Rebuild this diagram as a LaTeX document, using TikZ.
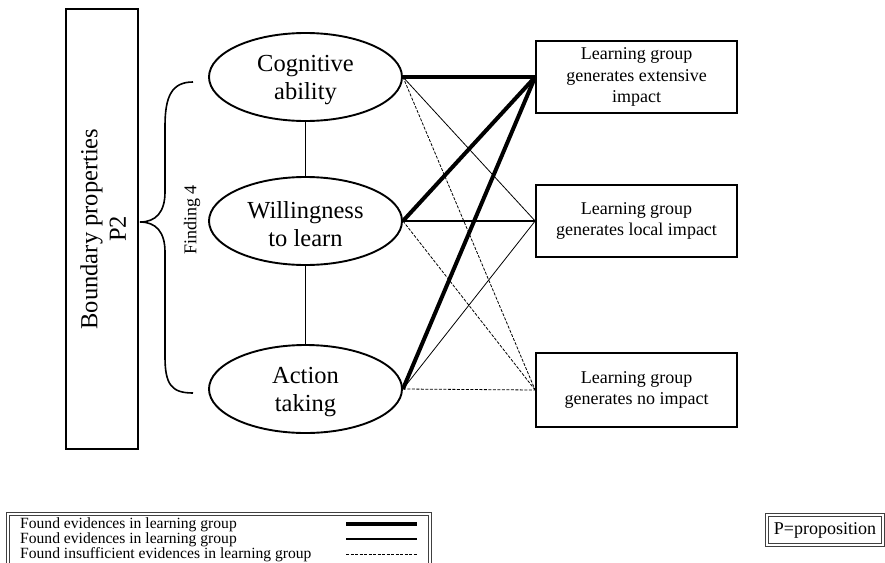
\documentclass[tikz,border=0pt]{standalone}
\usepackage{fontspec}
\setmainfont{Liberation Serif}
\usetikzlibrary{shapes.geometric}

\tikzset{
  factor/.style={ellipse, draw, line width=1.9pt, minimum width=193pt, minimum height=88pt,
    inner sep=0pt},
  factortext/.style={align=center, inner sep=0pt, font=\fontsize{24.5}{28.5}\selectfont},
  impact/.style={rectangle, draw, line width=1.7pt, minimum width=201pt, minimum height=72pt,
    inner sep=0pt, align=center, font=\fontsize{18}{21.5}\selectfont},
  strong/.style={line width=4pt},
  medium/.style={line width=1.6pt},
  weak/.style={line width=0.8pt},
  none/.style={line width=0.8pt, dash pattern=on 3pt off 1.5pt},
  framed/.style={rectangle, draw=black!75, line width=0.8pt, double=white, double distance=1.8pt, inner sep=0pt},
  legendtext/.style={anchor=west, inner sep=0pt, font=\fontsize{15.6}{17}\selectfont},
}

\begin{document}
\begin{tikzpicture}[x=1pt, y=-1pt]
  \useasboundingbox (0,0) rectangle (885,562);
  \clip (0,0) rectangle (885,562);

  % boundary properties column
  \node[rectangle, draw, line width=1.7pt, minimum width=72pt, minimum height=440pt, inner sep=0pt]
    (boundary) at (102,229) {};
  \node[rotate=90, align=center, font=\fontsize{24.5}{28.5}\selectfont] (boundarylabel) at (103,229)
    {Boundary properties\\P2};

  % curly brace grouping the three factors
  \coordinate (bracetop) at (193,82);
  \coordinate (bracetip) at (140,222);
  \coordinate (bracebot) at (193,393);
  \draw[line width=1.6pt] (bracetop) .. controls (172,82) and (165,96) .. (165,126)
    -- (165,192) .. controls (165,212) and (156,222) .. (bracetip)
    .. controls (156,222) and (165,232) .. (165,252)
    -- (165,357) .. controls (165,385) and (172,393) .. (bracebot);
  \node[rotate=90, font=\fontsize{18}{21}\selectfont] (finding) at (192,220) {Finding 4};

  % factors
  \node[factor] (cog) at (305.5,77) {};
  \node[factor] (will) at (305.5,221) {};
  \node[factor] (act) at (305.5,389) {};
  \node[factortext] (cogtext) at (305.5,80) {Cognitive\\ability};
  \node[factortext] (willtext) at (305.5,224) {Willingness\\to learn};
  \node[factortext] (acttext) at (305.5,392) {Action\\taking};
  \draw[weak] (cog) -- (will);
  \draw[weak] (will) -- (act);

  % impact outcomes
  \node[impact] (ext) at (636.5,77) {Learning group\\generates extensive\\impact};
  \node[impact] (loc) at (636.5,221) {Learning group\\generates local impact};
  \node[impact, minimum height=74pt] (noimp) at (636.5,390) {Learning group\\generates no impact};

  % evidence links
  \draw[strong] (cog.east) -- (ext.west);
  \draw[weak] (cog.east) -- (loc.west);
  \draw[none] (cog.east) -- (noimp.west);
  \draw[strong] (will.east) -- (ext.west);
  \draw[medium] (will.east) -- (loc.west);
  \draw[none] (will.east) -- (noimp.west);
  \draw[strong] (act.east) -- (ext.west);
  \draw[weak] (act.east) -- (loc.west);
  \draw[none] (act.east) -- (noimp.west);

  % legend
  \node[framed, minimum width=422pt, minimum height=60pt] (legend) at (219,544) {};
  \node[legendtext] (leg1) at (20,525) {Found evidences in learning group};
  \node[legendtext] (leg2) at (20,540) {Found evidences in learning group};
  \node[legendtext] (leg3) at (20,555) {Found insufficient evidences in learning group};
  \coordinate (l1a) at (346,524); \coordinate (l1b) at (417,524);
  \coordinate (l2a) at (346,539); \coordinate (l2b) at (417,539);
  \coordinate (l3a) at (346,554); \coordinate (l3b) at (417,554);
  \draw[line width=3.6pt] (l1a) -- (l1b);
  \draw[medium] (l2a) -- (l2b);
  \draw[none] (l3a) -- (l3b);

  % key for the proposition label
  \node[framed, minimum width=116pt, minimum height=30pt, font=\fontsize{18}{21}\selectfont]
    (pkey) at (825,530) {P=proposition};
\end{tikzpicture}
\end{document}
